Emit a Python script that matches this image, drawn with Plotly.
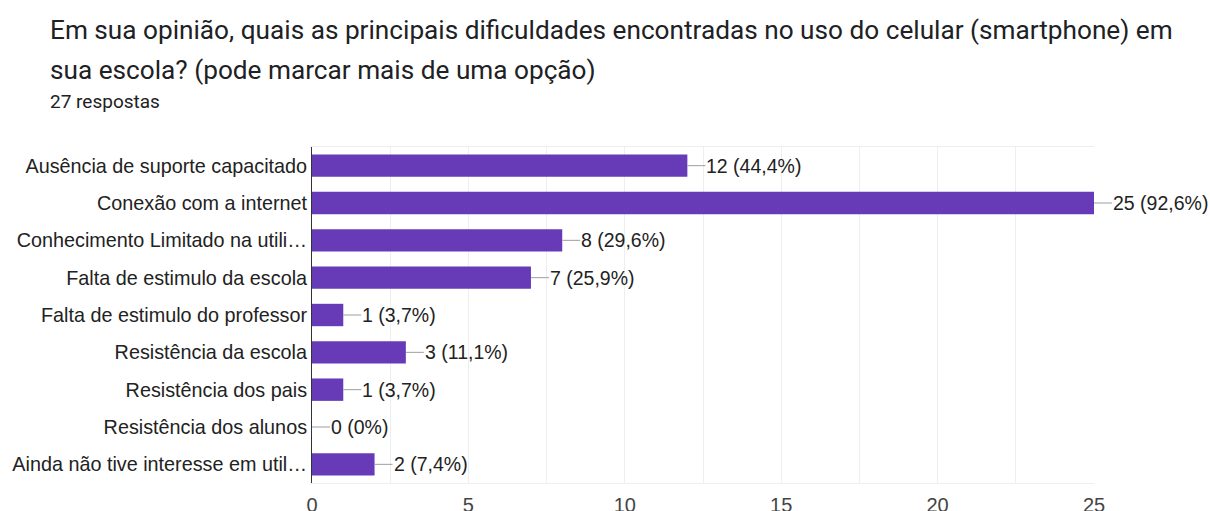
import plotly.graph_objects as go

categories = [
    "Ausência de suporte capacitado",
    "Conexão com a internet",
    "Conhecimento Limitado na utili…",
    "Falta de estimulo da escola",
    "Falta de estimulo do professor",
    "Resistência da escola",
    "Resistência dos pais",
    "Resistência dos alunos",
    "Ainda não tive interesse em util…",
]
counts = [12, 25, 8, 7, 1, 3, 1, 0, 2]
pct_labels = ["44,4%", "92,6%", "29,6%", "25,9%", "3,7%", "11,1%", "3,7%", "0%", "7,4%"]
x_ticks = [0, 5, 10, 15, 20, 25]

title_line1 = "Em sua opinião, quais as principais dificuldades encontradas no uso do celular (smartphone) em"
title_line2 = "sua escola? (pode marcar mais de uma opção)"
subtitle_text = "27 respostas"

PURPLE = "#673AB7"
GRID = "#eeeeee"
ARIAL = "Liberation Sans, Arial, sans-serif"
LABEL_FONT = dict(family=ARIAL, size=19.5, color="#222222")

W, H = 1210, 511
L, R, T, B = 312, 116, 147, 28
plot_w = W - L - R
plot_h = H - T - B


def px_x(px):
    return (px - L) / plot_w


def px_y(py):
    return (H - B - py) / plot_h


fig = go.Figure()
fig.add_trace(go.Bar(
    x=counts, y=categories, orientation="h",
    marker=dict(color=PURPLE, line=dict(width=0)),
    hoverinfo="skip",
))

annotations = []
for c, p, v in zip(categories, pct_labels, counts):
    annotations.append(dict(
        x=v, y=c, xref="x", yref="y",
        text=f"{v} ({p})",
        showarrow=True, arrowhead=0, arrowwidth=1, arrowcolor="#9e9e9e",
        ax=18, ay=0, xanchor="left", yanchor="middle",
        standoff=0, startstandoff=0,
        font=LABEL_FONT, borderpad=0,
    ))

for txt, py, size in [(title_line1, 30, 26.2), (title_line2, 70, 26.2), (subtitle_text, 101, 19)]:
    annotations.append(dict(
        text=txt, xref="paper", yref="paper",
        x=px_x(48), y=px_y(py), xanchor="left", yanchor="middle",
        showarrow=False,
        font=dict(family="Roboto, sans-serif", size=size, color="#202124"),
    ))

fig.update_layout(
    width=W, height=H,
    margin=dict(l=L, r=R, t=T, b=B, autoexpand=False),
    paper_bgcolor="white", plot_bgcolor="white",
    showlegend=False,
    bargap=0.4,
    xaxis=dict(
        range=[0, 25], tickvals=x_ticks, ticktext=[str(t) for t in x_ticks],
        showgrid=True, gridcolor=GRID, gridwidth=1,
        minor=dict(dtick=2.5, showgrid=True, gridcolor=GRID, gridwidth=1),
        zeroline=False, showline=True, linecolor=GRID, linewidth=1, mirror=True,
        ticks="outside", ticklen=4, tickcolor="rgba(0,0,0,0)",
        tickfont=dict(family=ARIAL, size=20, color="#444444"),
        fixedrange=True,
    ),
    yaxis=dict(
        autorange="reversed",
        showgrid=False, zeroline=False,
        showline=True, linecolor="#333333", linewidth=1,
        ticks="", ticklen=0,
        tickfont=dict(family=ARIAL, size=19.8, color="#222222"),
        fixedrange=True,
    ),
    annotations=annotations,
)

fig.write_html(
    "out.html",
    config={"displayModeBar": False},
    post_script="document.body.style.margin='0px';document.body.style.overflow='hidden';",
)
